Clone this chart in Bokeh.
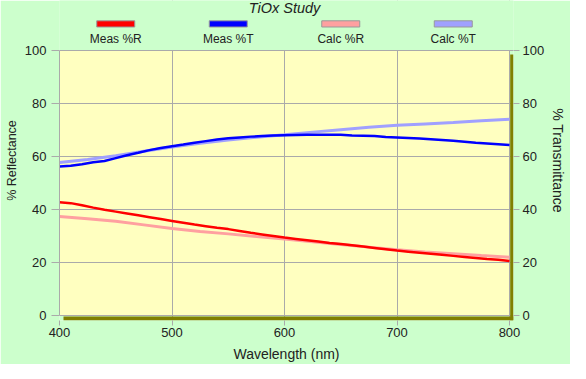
from bokeh.plotting import figure
from bokeh.models import LinearAxis, Range1d, Label, FixedTicker
from bokeh.embed import file_html
from bokeh.resources import INLINE

# ---- data ----
wl_meas = list(range(400, 801, 10))
meas_r = [42.7, 42.4, 41.6, 40.7, 39.9, 39.2, 38.5, 37.8, 37.1, 36.4,
          35.7, 35.0, 34.3, 33.7, 33.1, 32.6, 31.9, 31.2, 30.6, 30.0,
          29.4, 28.9, 28.4, 27.9, 27.4, 27.0, 26.5, 26.0, 25.5, 25.0,
          24.5, 24.1, 23.7, 23.3, 22.9, 22.5, 22.1, 21.7, 21.3, 21.0, 20.6]
meas_t = [56.2, 56.5, 57.1, 57.8, 58.3, 59.4, 60.5, 61.4, 62.4, 63.2,
          63.9, 64.5, 65.2, 65.8, 66.4, 66.9, 67.2, 67.5, 67.7, 67.9,
          68.0, 68.1, 68.2, 68.2, 68.2, 68.2, 67.9, 67.8, 67.7, 67.4,
          67.2, 67.0, 66.8, 66.5, 66.2, 65.9, 65.6, 65.2, 64.9, 64.6, 64.3]
wl_calc = list(range(400, 801, 25))
calc_r = [37.4, 36.5, 35.6, 34.2, 32.8, 31.7, 30.8, 29.8, 28.9,
          27.8, 26.8, 25.8, 24.8, 24.0, 23.3, 22.6, 22.0]
calc_t = [57.7, 58.9, 60.3, 62.0, 63.6, 65.0, 66.2, 67.3, 68.2,
          69.2, 70.1, 71.0, 71.8, 72.3, 72.8, 73.5, 74.1]

series_names = ["Meas %R", "Meas %T", "Calc %R", "Calc %T"]
series_colors = ["#ff0000", "#0000ff", "#ffa0a0", "#a0a0ff"]
legend_x = [450, 550, 650, 750]
x_ticks = [400, 500, 600, 700, 800]
y_ticks = [0, 20, 40, 60, 80, 100]
X0, X1, Y0, Y1 = 400, 800, 0, 100

# ---- layout constants (pixels) ----
PW, PH = 450, 265          # plot area size
SH_R, SH_B = 4, 5          # drop-shadow extents right / below
HEAD = 50                  # header space (title + legend) above plot area
sx = PW / (X1 - X0)        # px per nm
sy = PH / (Y1 - Y0)        # px per %
x_end = X1 + SH_R / sx
y_start = Y0 - SH_B / sy
y_end = Y1 + HEAD / sy


def ycan(c):
    """canvas-pixel row (from top of frame) -> data y"""
    return Y1 + (HEAD - c) / sy


FONT = "Liberation Sans"
TXT = "#222222"
GRAY = "#aaaaaa"
GREEN = "#ccffcc"
YELLOW = "#ffffc0"
OLIVE = "#808000"

p = figure(frame_width=PW + SH_R, frame_height=HEAD + PH + SH_B,
           output_backend="svg", toolbar_location=None,
           x_range=Range1d(X0, x_end), y_range=Range1d(y_start, y_end),
           min_border_left=59, min_border_right=57, min_border_top=0,
           min_border_bottom=43,
           background_fill_color=GREEN, border_fill_color=GREEN,
           outline_line_color=None)
p.extra_y_ranges = {"t": Range1d(y_start, y_end)}
p.add_layout(LinearAxis(y_range_name="t", axis_label="% Transmittance"), "right")

p.xaxis.axis_label = "Wavelength (nm)"
p.yaxis[0].axis_label = "% Reflectance"
p.xaxis.ticker = FixedTicker(ticks=x_ticks)
for ax in p.yaxis:
    ax.ticker = FixedTicker(ticks=y_ticks)

for ax in p.xaxis + p.yaxis:
    ax.axis_line_color = None
    ax.major_tick_line_color = GRAY
    ax.minor_tick_line_color = None
    ax.major_tick_in = 0
    ax.major_label_text_font = FONT
    ax.major_label_text_font_size = "13px"
    ax.major_label_text_color = TXT
    ax.axis_label_text_font = FONT
    ax.axis_label_text_font_size = "14px"
    ax.axis_label_text_font_style = "normal"
    ax.axis_label_text_color = TXT

p.yaxis[0].axis_line_color = GRAY
p.yaxis[0].bounds = (Y0, Y1)
p.yaxis[0].axis_label_text_font_size = "12.5px"
p.xaxis.major_tick_out = 5
p.xaxis.major_label_standoff = 2
p.xaxis.axis_label_standoff = 6
p.yaxis[0].major_tick_out = 8
p.yaxis[0].major_label_standoff = 5
p.yaxis[0].axis_label_standoff = 3
p.yaxis[1].major_tick_out = 6
p.yaxis[1].major_label_standoff = 3
p.yaxis[1].axis_label_standoff = 3

p.xgrid.grid_line_color = GRAY
p.ygrid.grid_line_color = GRAY

# ---- plot area, header cover and olive drop shadow ----
p.quad(left=X0, right=X1, bottom=Y0, top=Y1, fill_color=YELLOW,
       line_color=None, level="image")
p.quad(left=X0, right=x_end, bottom=Y1 + 0.6 / sy, top=y_end,
       fill_color=GREEN, line_color=None)
p.quad(left=X1 + 0.7 / sx, right=x_end, bottom=y_start, top=Y1 - 4 / sy,
       fill_color=OLIVE, line_color=None)
p.quad(left=X0 + 4 / sx, right=x_end, bottom=y_start, top=Y0 - 1 / sy,
       fill_color=OLIVE, line_color=None)

# ---- lines ----
p.line(wl_calc, calc_r, line_color=series_colors[2], line_width=3)
p.line(wl_calc, calc_t, line_color=series_colors[3], line_width=3)
p.line(wl_meas, meas_r, line_color=series_colors[0], line_width=2.5)
p.line(wl_meas, meas_t, line_color=series_colors[1], line_width=2.5)

# ---- title ----
p.add_layout(Label(x=(X0 + X1) / 2, y=ycan(7.5), text="TiOx Study",
                   text_align="center", text_baseline="middle",
                   text_font=FONT, text_font_size="14.5px",
                   text_font_style="italic", text_color=TXT))

# ---- legend: swatch above label ----
half = 19 / sx
p.quad(left=[lx - half for lx in legend_x], right=[lx + half for lx in legend_x],
       top=ycan(20.3), bottom=ycan(26.5), fill_color=series_colors,
       line_color="#999999", line_width=1)
for name, lx in zip(series_names, legend_x):
    p.add_layout(Label(x=lx, y=ycan(38.7), text=name,
                       text_align="center", text_baseline="middle",
                       text_font=FONT, text_font_size="12px", text_color=TXT))

open("out.html", "w").write(file_html(p, INLINE))
